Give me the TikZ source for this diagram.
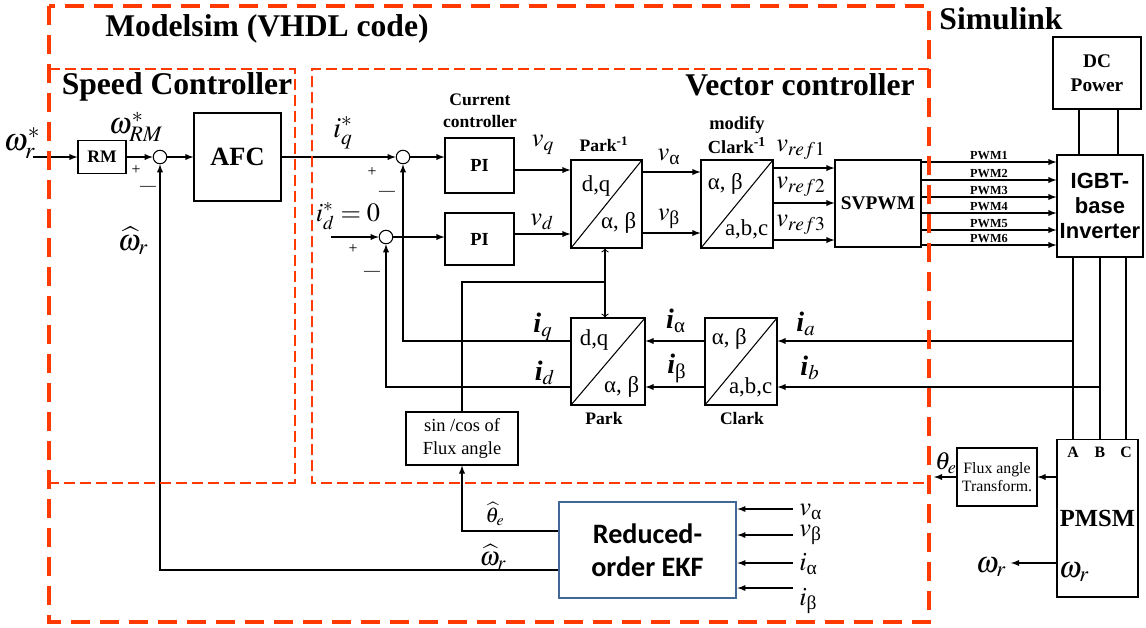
\documentclass[tikz,border=0pt]{standalone}
\usepackage{amsmath}
\usepackage{mathptmx}
\usepackage{fontspec}
\setmainfont{Liberation Serif}
\newfontfamily\arialfont{Liberation Sans}
\newfontfamily\calibrifont{Carlito}
\usepackage{tikz}
\usetikzlibrary{arrows, positioning}
\definecolor{zonered}{RGB}{255,58,0}
\definecolor{ekfblue}{RGB}{65,104,150}
\newcommand{\fsz}[2]{\fontsize{#1}{#2}\selectfont}
\tikzstyle{block} = [rectangle, draw=black, line width=0.6pt, text centered, align=center, inner sep=0pt, font=\bfseries]
\tikzstyle{xform} = [rectangle, draw=black, line width=0.6pt, minimum width=1.44cm, minimum height=1.76cm, path picture={\draw[line width=0.6pt] (path picture bounding box.south west) -- (path picture bounding box.north east);}]
\tikzstyle{sumpt} = [circle, draw=black, line width=0.6pt, minimum size=0.27cm, inner sep=0pt]
\tikzstyle{arrow} = [line width=0.6pt,->,>=latex]
\tikzstyle{openarrow} = [line width=0.6pt,->,>=to]
\tikzstyle{wire} = [line width=0.6pt]
\tikzstyle{zone} = [draw=zonered, line width=2.2pt, dash pattern=on 0.38cm off 0.2cm]
\tikzstyle{subzone} = [draw=zonered, line width=1.2pt, dash pattern=on 0.22cm off 0.1cm]
\tikzstyle{title} = [font=\fsz{18}{20}\bfseries, inner sep=0pt]
\tikzstyle{caption} = [font=\fsz{10}{12.5}\bfseries, align=center, inner sep=0pt]
\tikzstyle{sig} = [font=\fsz{15}{17}, inner sep=0pt]
\tikzstyle{sign} = [font=\fsz{9}{11}, inner sep=0pt]
\tikzstyle{corner} = [font=\fsz{13}{15}, inner sep=0pt]

\begin{document}
\begin{tikzpicture}[x=0.02cm, y=-0.02cm]
\useasboundingbox (0,0) rectangle (1146,627);

% Titles
\node (tmodel) [title] at (267,29) {Modelsim (VHDL code)};
\node (tspeed) [title] at (177,87) {Speed Controller};
\node (tvector) [title] at (800,85) {Vector controller};
\node (tsim) [title] at (1001,19) {Simulink};

% Speed controller
\node (rm) [block, minimum width=0.96cm, minimum height=0.66cm, font=\fsz{10}{12}\bfseries] at (102,157) {RM};
\node (sw) [sumpt] at (160,157) {};
\node (afc) [block, minimum width=1.74cm, minimum height=1.76cm, font=\fsz{15}{17}\bfseries] at (237.5,157) {AFC};

% Current controllers
\node (sq) [sumpt] at (403,157) {};
\node (sd) [sumpt] at (386,237) {};
\node (pi1) [block, minimum width=1.38cm, minimum height=1.10cm, font=\fsz{10.5}{12}\bfseries] at (479.5,165.5) {PI};
\node (pi2) [block, below of=pi1, node distance=1.47cm, minimum width=1.38cm, minimum height=1.04cm, font=\fsz{10.5}{12}\bfseries] {PI};

% Transformations
\node (parkinv) [xform, minimum width=1.42cm] at (606.5,204) {};
\node (clarkinv) [xform, right of=parkinv, node distance=2.61cm] {};
\node (park) [xform, minimum width=1.48cm, minimum height=1.74cm] at (608,361.5) {};
\node (clark) [xform, right of=park, node distance=2.66cm, minimum height=1.74cm] {};
\node[corner, anchor=north west, xshift=0.22cm, yshift=-0.32cm] at (parkinv.north west) {d,q};
\node[corner, anchor=base east, xshift=-0.12cm, yshift=0.4cm] at (parkinv.south east) {α, β};
\node[corner, anchor=north west, xshift=0.14cm, yshift=-0.28cm] at (clarkinv.north west) {α, β};
\node[corner, anchor=base east, xshift=-0.1cm, yshift=0.26cm] at (clarkinv.south east) {a,b,c};
\node[corner, anchor=north west, xshift=0.18cm, yshift=-0.24cm] at (park.north west) {d,q};
\node[corner, anchor=base east, xshift=-0.12cm, yshift=0.26cm] at (park.south east) {α, β};
\node[corner, anchor=north west, xshift=0.14cm, yshift=-0.22cm] at (clark.north west) {α, β};
\node[corner, anchor=base east, xshift=-0.1cm, yshift=0.24cm] at (clark.south east) {a,b,c};
\node (sincos) [block, minimum width=2.24cm, minimum height=1.06cm, font=\fsz{10.5}{13.6}] at (462,438.5) {sin /cos of\\Flux angle};

% Modulation and inverter
\node (svpwm) [block, minimum width=1.72cm, minimum height=1.74cm, font=\fsz{11}{13}\bfseries] at (878,203.5) {SVPWM};
\node (igbt) [block, minimum width=1.72cm, minimum height=2.04cm, font=\arialfont\bfseries\fsz{12.5}{14.2}] at (1100,206) {IGBT-\\base\\Inverter};
\node (dc) [block, minimum width=1.76cm, minimum height=1.44cm, font=\fsz{11}{13.6}\bfseries] at (1097,73) {DC\\Power};

% Machine side
\node (pmsm) [block, minimum width=1.62cm, minimum height=3.16cm, font=\fsz{14}{16}\bfseries] at (1097.5,518) {PMSM};
\node (flux) [block, minimum width=1.6cm, minimum height=1.16cm, font=\fsz{9}{10.3}] at (997,477) {Flux angle\\Transform.};
\foreach \x/\p in {1073/A,1100/B,1126/C}
  \node[font=\fsz{9}{11}\bfseries, inner sep=0pt] at (\x,452) {\p};

% Observer
\node (ekf) [block, draw=ekfblue, line width=1.6pt, minimum width=3.54cm, minimum height=1.92cm, font=\calibrifont\bfseries\fsz{16}{19}] at (647.5,550) {Reduced-\\order EKF};

% Speed loop arrows
\coordinate (wrin) at (33,157);
\draw [arrow] (wrin) -- (rm);
\draw [arrow] (rm) -- (sw);
\draw [arrow] (sw) -- (afc);
\draw [arrow] (afc) -- (sq);

% Current loop arrows
\coordinate (idin) at (331,237);
\draw [arrow] (idin) -- (sd);
\draw [arrow] (sq) -- (sq -| pi1.west);
\draw [arrow] (sd) -- (sd -| pi2.west);
\draw [arrow] (pi1.east |- 0,170) -- (parkinv.west |- 0,170);
\draw [arrow] (pi2.east |- 0,234) -- (parkinv.west |- 0,234);
\foreach \y in {172,233}
  \draw [arrow] (parkinv.east |- 0,\y) -- (clarkinv.west |- 0,\y);
\foreach \y in {168,203,240}
  \draw [arrow] (clarkinv.east |- 0,\y) -- (svpwm.west |- 0,\y);
\foreach \k/\y in {1/162,2/180,3/197,4/213,5/230,6/245}
  \draw [arrow] (svpwm.east |- 0,\y) -- (igbt.west |- 0,\y) node[midway, above, inner sep=1pt, font=\fsz{7}{8}\bfseries] {PWM\k};

% Power wiring
\foreach \x in {1079,1118}
  \draw [wire] (dc.south -| \x,0) -- (igbt.north -| \x,0);
\foreach \x in {1073,1100,1126}
  \draw [wire] (igbt.south -| \x,0) -- (pmsm.north -| \x,0);

% Current feedback
\coordinate (tapa) at (1073,341);
\coordinate (tapb) at (1100,387);
\draw [arrow] (tapa) -- (clark.east |- tapa);
\draw [arrow] (tapb) -- (clark.east |- tapb);
\foreach \y in {341,387}
  \draw [arrow] (clark.west |- 0,\y) -- (park.east |- 0,\y);
\draw [arrow] (park.west |- 0,341) -| (sq.south);
\draw [arrow] (park.west |- 0,387) -| (sd.south);

% Angle distribution
\coordinate (tee) at (605,282);
\draw [wire] (sincos.north) |- (tee);
\draw [openarrow] (tee) -- (tee |- parkinv.south);
\draw [openarrow] (tee) -- (tee |- park.north);

% Observer arrows
\draw [arrow] (ekf.west |- 0,531) -| (sincos.south);
\draw [arrow] (ekf.west |- 0,570) -| (sw.south);
\foreach \y [count=\k] in {509,535,563,588} {
  \coordinate (ein\k) at (793,\y);
  \draw [arrow] (ein\k) -- (ekf.east |- ein\k);
}

% Machine arrows
\coordinate (thout) at (934,477);
\coordinate (wrout) at (1011,563);
\draw [arrow] (pmsm.west |- flux.east) -- (flux.east);
\draw [arrow] (flux.west) -- (thout);
\draw [arrow] (pmsm.west |- wrout) -- (wrout);

% Signal labels
\node (lwref) [sig, font=\fsz{18}{20}] at (22,143) {$\omega_r^*$};
\node (lwrm) [sig, font=\fsz{17}{19}] at (136,127) {$\omega_{RM}^*$};
\node (lwhat) [sig, font=\fsz{17}{19}] at (133,241) {$\widehat{\omega}_r$};
\node (liqref) [sig, font=\fsz{16.5}{19}] at (343,133) {$i_q^*$};
\node (lidref) [sig] at (348,216) {$i_d^*=0$};
\foreach \x/\y in {136/170,372/172,353/249}
  \node[sign] at (\x,\y) {+};
\foreach \x/\y in {148/188,387/193,372/273}
  \node[sign] at (\x,\y) {—};
\node (lcc) [caption] at (480,111) {Current\\controller};
\node (lvq) [sig] at (543,145) {$v_q$};
\node (lvd) [sig] at (542,222) {$v_d$};
\node (lparkinv) [caption] at (604,144) {Park\textsuperscript{-1}};
\node (lva) [sig] at (669,157) {$v_{\textrm{α}}$};
\node (lvb) [sig] at (669,219) {$v_{\textrm{β}}$};
\node (lclarkinv) [caption, font=\fsz{10.5}{13.6}\bfseries] at (737,135) {modify\\Clark\textsuperscript{-1}};
\node (lvr1) [sig] at (801,150) {$v_{ref1}$};
\node (lvr2) [sig] at (801,187) {$v_{ref2}$};
\node (lvr3) [sig] at (801,225) {$v_{ref3}$};
\node (liq) [sig, font=\fsz{16}{18}] at (543,327) {\textbf{\textit{i}}$_q$};
\node (lid) [sig, font=\fsz{16}{18}] at (545,373) {\textbf{\textit{i}}$_d$};
\node (lia) [sig, font=\fsz{16}{18}] at (676,321) {\textbf{\textit{i}}$_{\textrm{α}}$};
\node (lib) [sig, font=\fsz{16}{18}] at (677,368) {\textbf{\textit{i}}$_{\textrm{β}}$};
\node (lpa) [sig, font=\fsz{16}{18}] at (806,324) {\textbf{\textit{i}}$_a$};
\node (lpb) [sig, font=\fsz{16}{18}] at (810,368) {\textbf{\textit{i}}$_b$};
\node (lpark) [caption] at (604,418) {Park};
\node (lclark) [caption] at (742,418) {Clark};
\node (lthhat) [sig, font=\fsz{12}{14}] at (495,514) {$\widehat{\theta}_e$};
\node (lwhat2) [sig] at (493,557) {$\widehat{\omega}_r$};
\node (leva) [sig, anchor=west] at (799,512) {$v_{\textrm{α}}$};
\node (levb) [sig, anchor=west] at (799,535) {$v_{\textrm{β}}$};
\node (leia) [sig, anchor=west] at (799,564) {$i_{\textrm{α}}$};
\node (leib) [sig, anchor=west] at (799,601) {$i_{\textrm{β}}$};
\node (lthe) [sig, font=\fsz{14}{16}] at (946,463) {$\theta_e$};
\node (lwrout) [sig, font=\fsz{17}{19}] at (991,567) {$\omega_r$};
\node (lwrin) [sig, font=\fsz{17}{19}] at (1074,572) {$\omega_r$};

% Zone frames
\draw [subzone] (49,69) -- (295,69) -- (295,483) -- (49,483);
\draw [subzone] (929,69) -- (312,69) -- (312,483) -- (929,483);
\draw [zone] (49,6) rectangle (929,622);

\end{tikzpicture}
\end{document}
